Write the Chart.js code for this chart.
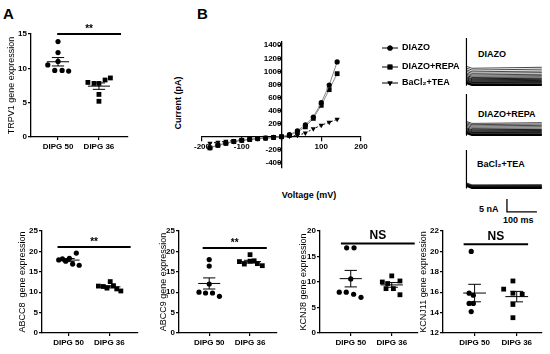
<!DOCTYPE html>
<html>
<head>
<meta charset="utf-8">
<script src="https://cdn.jsdelivr.net/npm/chart.js@4.4.1/dist/chart.umd.min.js"></script>
<style>
  body { margin: 0; width: 550px; height: 354px; background: #fff; position: relative; overflow: hidden;
         font-family: "Liberation Sans", Arial, sans-serif; }
  canvas { position: absolute; }
  .lbl { position: absolute; white-space: nowrap; color: #000; font-weight: bold; line-height: 1; }
</style>
</head>
<body>
<div class="lbl" style="left:3px;top:6px;font-size:15px">A</div>
<div class="lbl" style="left:197px;top:6px;font-size:15px">B</div>
<div class="lbl" style="left:178px;top:103px;font-size:9px;transform:translate(-50%,-50%) rotate(-90deg)">Current (pA)</div>
<div class="lbl" style="left:309px;top:195px;font-size:9px;transform:translate(-50%,-50%)">Voltage (mV)</div>
<div class="lbl" style="left:478px;top:50px;font-size:9px">DIAZO</div>
<div class="lbl" style="left:478px;top:110px;font-size:9px">DIAZO+REPA</div>
<div class="lbl" style="left:477px;top:160px;font-size:9px">BaCl₂+TEA</div>
<div class="lbl" style="left:479px;top:205px;font-size:9px">5 nA</div>
<div class="lbl" style="left:503px;top:216px;font-size:9px">100 ms</div>

<script>
// ---- dot plots: gene expression ----
const groupNames = ["DIPG 50", "DIPG 36"];

const trpv1Dipg50 = [13.9, 12.3, 11.0, 10.5, 9.7, 9.7, 9.6];
const trpv1Dipg36 = [7.95, 7.8, 7.8, 8.3, 8.6, 6.2, 5.2];
const trpv1Jitter50 = [0, 0, 0, -0.25, -0.08, 0.1, 0.26];
const trpv1Jitter36 = [-0.27, -0.12, 0, 0.15, 0.28, 0, 0];

const abcc8Dipg50 = [17.9, 18.2, 17.6, 18.3, 16.9, 19.6, 16.6];
const abcc8Dipg36 = [11.5, 11.4, 11.0, 12.6, 11.6, 10.8, 10.3];
const abcc8Jitter50 = [-0.24, -0.15, -0.07, 0.02, 0.1, 0.19, 0.26];
const abcc8Jitter36 = [-0.27, -0.15, -0.06, 0.02, 0.1, 0.18, 0.28];

const abcc9Dipg50 = [18.0, 16.4, 12.0, 10.0, 9.8, 9.8, 9.0];
const abcc9Dipg36 = [17.5, 16.9, 19.2, 17.6, 17.7, 17.0, 16.5];
const abcc9Jitter50 = [0, 0, 0, -0.25, -0.09, 0.08, 0.25];
const abcc9Jitter36 = [-0.26, -0.14, 0, 0, 0.1, 0.18, 0.3];

const kcnj8Dipg50 = [16.7, 16.7, 10.6, 8.0, 8.0, 7.6, 7.0];
const kcnj8Dipg36 = [10.0, 9.7, 11.2, 10.2, 8.7, 8.7, 7.5];
const kcnj8Jitter50 = [-0.1, 0.08, 0, -0.28, -0.11, 0.07, 0.25];
const kcnj8Jitter36 = [-0.23, -0.1, 0, 0.2, -0.14, 0.04, 0.2];

const kcnj11Dipg50 = [20.0, 15.9, 15.7, 14.9, 14.9, 14.1];
const kcnj11Dipg36 = [17.1, 16.3, 15.9, 15.8, 14.8, 13.5];
const kcnj11Jitter50 = [-0.08, -0.13, -0.03, -0.13, -0.03, -0.08];
const kcnj11Jitter36 = [-0.09, -0.31, -0.09, 0.13, -0.09, -0.09];

// ---- I-V curve ----
const voltages = [-180, -160, -140, -120, -100, -80, -60, -40, -20, 0, 20, 40, 60, 80, 100, 120, 140];
const currentDiazo = [-170, -130, -100, -75, -55, -42, -30, -22, -12, 0, 30, 90, 180, 300, 520, 790, 1145];
const currentDiazoRepa = [-172, -132, -102, -76, -56, -43, -31, -22, -12, 0, 20, 70, 150, 280, 480, 720, 965];
const currentBaTea = [-100, -85, -72, -60, -50, -40, -30, -20, -10, 0, 5, 20, 55, 120, 175, 220, 265];
const ivXTicks = [-200, -100, 0, 100, 200];
const ivYTicks = [-400, -200, 0, 200, 400, 600, 800, 1000, 1200, 1400];

// ---- current traces (nA above holding level) ----
const traceLevelsDiazo = [0, 0.2, 0.4, 0.7, 1.0, 1.3, 1.7, 2.1, 2.5, 3.0, 3.5, 4.0, 4.6, 5.2, 5.9, 6.6];
const traceLevelsRepa = [0, 0.2, 0.4, 0.7, 1.0, 1.3, 1.7, 2.1, 2.6, 3.1, 3.6, 4.1, 4.6];
const traceLevelsBaTea = [0, 0.2, 0.4, 0.6, 0.8, 1.0, 1.2];

const tickFont = { family: "Liberation Sans", size: 8, weight: "bold" };

function addCanvas(x, y, w, h) {
  const c = document.createElement("canvas");
  c.width = w;
  c.height = h;
  c.style.left = x + "px";
  c.style.top = y + "px";
  document.body.appendChild(c);
  return c;
}

function mean(a) {
  return a.reduce((s, v) => s + v, 0) / a.length;
}

function sem(a) {
  const m = mean(a);
  const sd = Math.sqrt(a.reduce((s, v) => s + (v - m) * (v - m), 0) / (a.length - 1));
  return sd / Math.sqrt(a.length);
}

function segment(points, width) {
  return {
    type: "scatter",
    data: points.map((p) => ({ x: p[0], y: p[1] })),
    showLine: true,
    pointRadius: 0,
    borderColor: "#000",
    borderWidth: width || 1,
    clip: false,
  };
}

const sigLabel = {
  id: "sigLabel",
  afterDatasetsDraw(chart, args, opts) {
    const { ctx } = chart;
    const x = chart.scales.x.getPixelForValue(opts.x);
    const y = chart.scales.y.getPixelForValue(opts.y);
    ctx.save();
    ctx.font = opts.font;
    ctx.fillStyle = "#000";
    ctx.textAlign = "center";
    ctx.textBaseline = "bottom";
    ctx.fillText(opts.text, x, y - opts.gap);
    ctx.restore();
  },
};

function dotPlot(box, spec) {
  const padTop = 22, padRight = 8, xH = 22;
  const cLeft = Math.round(box.left - box.titleGap - 5.4);
  const W = box.left - cLeft;
  const canvas = addCanvas(cLeft, box.top - padTop, W + box.right - box.left + padRight,
    padTop + box.bottom - box.top + xH);

  const datasets = [];
  spec.groups.forEach((vals, g) => {
    const xc = g + 1;
    const m = mean(vals);
    const s = sem(vals);
    datasets.push({
      type: "scatter",
      data: vals.map((v, i) => ({ x: xc + spec.jitter[g][i], y: v })),
      pointStyle: g === 0 ? "circle" : "rect",
      pointRadius: g === 0 ? 2.6 : 3.4,
      backgroundColor: "#000",
      borderColor: "#000",
      borderWidth: 0,
      clip: false,
    });
    datasets.push(segment([[xc - 0.27, m], [xc + 0.27, m]]));
    datasets.push(segment([[xc - 0.15, m + s], [xc + 0.15, m + s]]));
    datasets.push(segment([[xc - 0.15, m - s], [xc + 0.15, m - s]]));
    datasets.push(segment([[xc, m - s], [xc, m + s]]));
  });
  datasets.push(segment([[spec.sigFrom, spec.sigY], [spec.sigTo, spec.sigY]], 2));

  const ns = spec.sigText === "NS";
  new Chart(canvas, {
    type: "scatter",
    data: { datasets },
    plugins: [sigLabel],
    options: {
      responsive: false,
      animation: false,
      layout: { padding: { top: padTop, right: padRight, left: 0, bottom: 0 } },
      plugins: {
        legend: { display: false },
        tooltip: { enabled: false },
        sigLabel: {
          text: spec.sigText,
          x: (spec.sigFrom + spec.sigTo) / 2,
          y: spec.sigY,
          gap: ns ? 2 : 0,
          font: ns ? "bold 12px 'Liberation Sans'" : "bold 10px 'Liberation Sans'",
        },
      },
      scales: {
        x: {
          type: "linear",
          min: box.xmin,
          max: box.xmax,
          afterBuildTicks: (s) => { s.ticks = [{ value: 1 }, { value: 2 }]; },
          afterFit: (s) => { s.height = xH; },
          ticks: { callback: (v) => groupNames[v - 1], font: tickFont, color: "#000", padding: 2, maxRotation: 0 },
          grid: { drawOnChartArea: false, tickLength: 3, color: "#000", lineWidth: 1.2 },
          border: { color: "#000", width: 1.3 },
        },
        y: {
          min: spec.yMin,
          max: spec.yMax,
          afterFit: (s) => { s.width = W; },
          ticks: { stepSize: spec.yStep, font: tickFont, color: "#000", padding: 1 },
          grid: { drawOnChartArea: false, tickLength: 3, color: "#000", lineWidth: 1.2 },
          border: { color: "#000", width: 1.3 },
          title: {
            display: true,
            text: spec.yTitle,
            color: "#000",
            font: { family: "Liberation Sans", size: 9 },
            padding: { top: 0, bottom: 0 },
          },
        },
      },
    },
  });
}

dotPlot({ left: 31, right: 128, top: 34, bottom: 137, xmin: 0.34, xmax: 2.71, titleGap: 20 }, {
  groups: [trpv1Dipg50, trpv1Dipg36], jitter: [trpv1Jitter50, trpv1Jitter36],
  yMin: 0, yMax: 15, yStep: 5, yTitle: "TRPV1 gene expression",
  sigText: "**", sigFrom: 0.98, sigTo: 2.54, sigY: 15,
});
dotPlot({ left: 42, right: 138, top: 231, bottom: 333, xmin: 0.35, xmax: 2.7, titleGap: 20 }, {
  groups: [abcc8Dipg50, abcc8Dipg36], jitter: [abcc8Jitter50, abcc8Jitter36],
  yMin: 0, yMax: 25, yStep: 5, yTitle: "ABCC8  gene expression",
  sigText: "**", sigFrom: 0.73, sigTo: 2.52, sigY: 21.1,
});
dotPlot({ left: 179, right: 277, top: 231, bottom: 333, xmin: 0.26, xmax: 2.66, titleGap: 16 }, {
  groups: [abcc9Dipg50, abcc9Dipg36], jitter: [abcc9Jitter50, abcc9Jitter36],
  yMin: 0, yMax: 25, yStep: 5, yTitle: "ABCC9 gene expression",
  sigText: "**", sigFrom: 0.84, sigTo: 2.41, sigY: 20.85,
});
dotPlot({ left: 320, right: 418, top: 231, bottom: 333, xmin: 0.25, xmax: 2.64, titleGap: 17 }, {
  groups: [kcnj8Dipg50, kcnj8Dipg36], jitter: [kcnj8Jitter50, kcnj8Jitter36],
  yMin: 0, yMax: 20, yStep: 5, yTitle: "KCNJ8 gene expression",
  sigText: "NS", sigFrom: 0.76, sigTo: 2.56, sigY: 17.55,
});
dotPlot({ left: 443, right: 542, top: 231, bottom: 333, xmin: 0.25, xmax: 2.6, titleGap: 20 }, {
  groups: [kcnj11Dipg50, kcnj11Dipg36], jitter: [kcnj11Jitter50, kcnj11Jitter36],
  yMin: 12, yMax: 22, yStep: 2, yTitle: "KCNJ11 gene expression",
  sigText: "NS", sigFrom: 0.74, sigTo: 2.27, sigY: 20.7,
});

// ---- I-V chart with its legend ----
const ivLegend = {
  id: "ivLegend",
  afterDraw(chart, args, opts) {
    const { ctx } = chart;
    ctx.save();
    ctx.font = "bold 9px 'Liberation Sans'";
    ctx.textBaseline = "middle";
    ctx.fillStyle = "#000";
    chart.data.datasets.forEach((ds, i) => {
      const y = opts.rows[i];
      ctx.strokeStyle = "#000";
      ctx.lineWidth = 1;
      ctx.beginPath();
      ctx.moveTo(opts.x - 8, y);
      ctx.lineTo(opts.x + 8, y);
      ctx.stroke();
      Chart.helpers.drawPoint(ctx, {
        pointStyle: ds.pointStyle, rotation: ds.rotation || 0, radius: ds.pointRadius, borderWidth: 0,
      }, opts.x, y);
      ctx.fill();
      ctx.fillText(ds.label, opts.x + 12, y);
    });
    ctx.restore();
  },
};

const ivCanvas = addCanvas(160, 30, 310, 175);
new Chart(ivCanvas, {
  type: "line",
  data: {
    labels: voltages,
    datasets: [
      { label: "DIAZO", data: voltages.map((v, i) => ({ x: v, y: currentDiazo[i] })),
        pointStyle: "circle", pointRadius: 2.6, borderColor: "#8a8a8a", borderWidth: 1,
        pointBackgroundColor: "#000", pointBorderWidth: 0 },
      { label: "DIAZO+REPA", data: voltages.map((v, i) => ({ x: v, y: currentDiazoRepa[i] })),
        pointStyle: "rect", pointRadius: 3.4, borderColor: "#8a8a8a", borderWidth: 1,
        pointBackgroundColor: "#000", pointBorderWidth: 0 },
      { label: "BaCl₂+TEA", data: voltages.map((v, i) => ({ x: v, y: currentBaTea[i] })),
        pointStyle: "triangle", rotation: 180, pointRotation: 180, pointRadius: 3, borderColor: "#000",
        borderWidth: 1, borderDash: [2, 2], pointBackgroundColor: "#000", pointBorderWidth: 0 },
    ],
  },
  plugins: [ivLegend],
  options: {
    responsive: false,
    animation: false,
    layout: { padding: { left: 42, top: 12, right: 109, bottom: 37 } },
    plugins: {
      legend: { display: false },
      tooltip: { enabled: false },
      ivLegend: { x: 230, rows: [18, 37, 53] },
    },
    scales: {
      x: {
        type: "linear",
        min: -200,
        max: 200,
        position: { y: 0 },
        afterBuildTicks: (s) => { s.ticks = ivXTicks.map((v) => ({ value: v })); },
        ticks: { callback: (v) => (v === 0 ? "" : v), font: tickFont, color: "#000", padding: 1, maxRotation: 0 },
        grid: { drawOnChartArea: false, tickLength: 4, color: "#000", lineWidth: 1.2 },
        border: { color: "#000", width: 1.3 },
      },
      y: {
        min: -480,
        max: 1450,
        position: { x: 0 },
        afterBuildTicks: (s) => { s.ticks = ivYTicks.map((v) => ({ value: v })); },
        ticks: { callback: (v) => (v === 0 ? "" : v), font: tickFont, color: "#000", padding: 1 },
        grid: { drawOnChartArea: false, tickLength: 3, color: "#000", lineWidth: 1.2 },
        border: { color: "#000", width: 1.3 },
      },
    },
  },
});

// ---- whole-cell current traces + scale bar ----
function traceSets(levels, base, top) {
  const sets = [{ data: [{ x: 0, y: base }, { x: 0, y: top }, { x: 3, y: base + levels[levels.length - 1] }], borderColor: "#000", borderWidth: 1.2 }];
  levels.forEach((lvl, i) => {
    sets.push({
      data: [{ x: 1, y: base + lvl + 0.8 }, { x: 20, y: base + lvl }, { x: 253, y: base + lvl * 1.06 }],
      borderColor: i < levels.length * 0.6 ? "#000" : "#333",
      borderWidth: i === 0 ? 2 : 0.9,
    });
  });
  return sets;
}

const traceCanvas = addCanvas(455, 35, 95, 195);
const traceData = [
  ...traceSets(traceLevelsDiazo, -19.7, -1.2),
  ...traceSets(traceLevelsRepa, -39.4, -23.2),
  ...traceSets(traceLevelsBaTea, -60.2, -45.3),
  { data: [{ x: 136.7, y: -64.6 }, { x: 136.7, y: -69.6 }, { x: 236.7, y: -69.6 }], borderColor: "#000", borderWidth: 1.3 },
];
new Chart(traceCanvas, {
  type: "line",
  data: {
    datasets: traceData.map((d) => ({ borderWidth: 0.9, pointRadius: 0, tension: 0, clip: false, ...d })),
  },
  options: {
    responsive: false,
    animation: false,
    layout: { padding: { left: 11, right: 7, top: 0, bottom: 5 } },
    plugins: { legend: { display: false }, tooltip: { enabled: false } },
    scales: {
      x: { type: "linear", min: 0, max: 257, display: false },
      y: { min: -74.8, max: 0, display: false },
    },
  },
});
</script>
</body>
</html>
